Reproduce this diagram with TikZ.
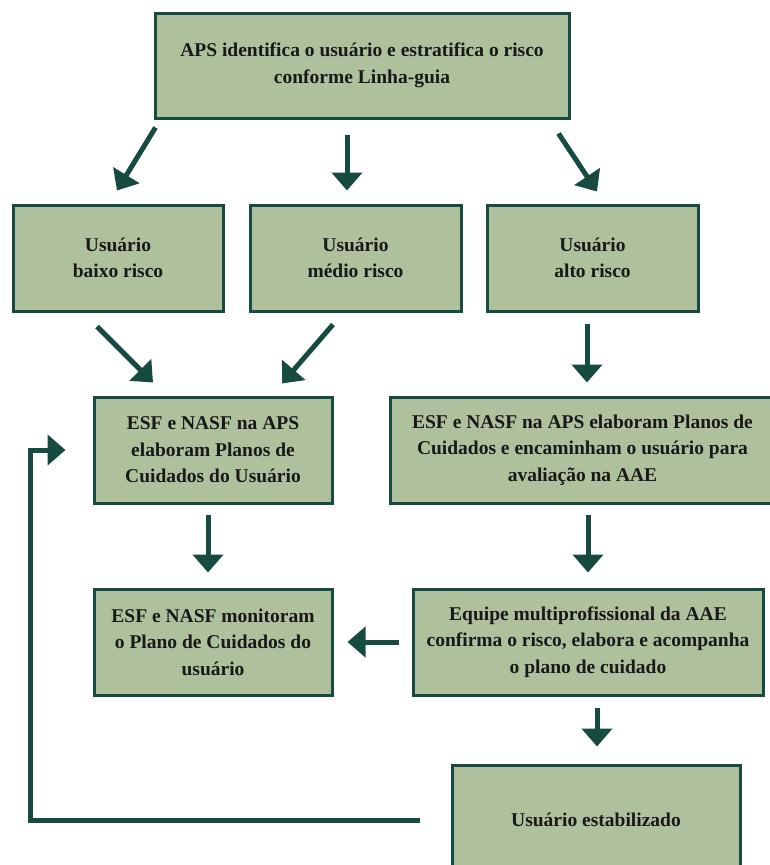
\documentclass[tikz,border=0pt]{standalone}
\usepackage{fontspec}
\setmainfont{Liberation Serif}
\usetikzlibrary{arrows.meta}
\definecolor{sage}{RGB}{175,192,156}
\definecolor{pine}{RGB}{23,74,64}
\definecolor{ink}{RGB}{25,25,25}
\begin{document}
\begin{tikzpicture}[x=1pt,y=-1pt]
\tikzstyle{every node}=[font=\fontsize{19.5}{26.5}\selectfont\bfseries, text=ink]
\tikzstyle{etapa}=[draw=pine, line width=3pt, fill=sage, align=center, inner sep=0pt]
\tikzstyle{seta}=[pine, line width=5pt, -{Triangle[width=30pt,length=18pt]}]
	\useasboundingbox (0,0) rectangle (770,865);
	\clip (0,0) rectangle (770,865);

	\node[etapa, minimum width=414pt, minimum height=105pt] (aps) at (362,65.5) {APS identifica o usuário e estratifica o risco\\conforme Linha-guia};

	\node[etapa, minimum width=210pt, minimum height=106pt] (baixo) at (118,258) {Usuário\\baixo risco};
	\node[etapa, minimum width=211pt, minimum height=106pt] (medio) at (355.5,258) {Usuário\\médio risco};
	\node[etapa, minimum width=211pt, minimum height=106pt] (alto) at (592.5,258) {Usuário\\alto risco};

	\node[etapa, minimum width=238pt, minimum height=106pt] (esfbaixo) at (213,450) {ESF e NASF na APS\\elaboram Planos de\\Cuidados do Usuário};
	\node[etapa, minimum width=385pt, minimum height=106pt] (esfalto) at (582.5,450) {ESF e NASF na APS elaboram Planos de\\Cuidados e encaminham o usuário para\\avaliação na AAE};

	\node[etapa, minimum width=238pt, minimum height=106pt] (monitora) at (213,642) {ESF e NASF monitoram\\o Plano de Cuidados do\\usuário};
	\node[etapa, minimum width=350pt, minimum height=106pt] (equipe) at (588,642) {Equipe multiprofissional da AAE\\confirma o risco, elabora e acompanha\\o plano de cuidado};

	\node[etapa, minimum width=288pt, minimum height=110pt] (estavel) at (596,820) {Usuário estabilizado};

	\draw[seta] ([xshift=2pt,yshift=-8pt]aps.south west) -- ([xshift=-1pt,yshift=13pt]baixo.north);
	\draw[seta] ([xshift=-15pt,yshift=-15pt]aps.south) -- ([xshift=-8.5pt,yshift=13pt]medio.north);
	\draw[seta] ([xshift=-12pt,yshift=-14pt]aps.south east) -- ([xshift=4.5pt,yshift=12pt]alto.north);
	\draw[seta] ([xshift=-21pt,yshift=-14pt]baixo.south) -- ([xshift=-60pt,yshift=13pt]esfbaixo.north);
	\draw[seta] ([xshift=-22.5pt,yshift=-12pt]medio.south) -- ([xshift=69pt,yshift=12pt]esfbaixo.north);
	\draw[seta] ([xshift=-5.5pt,yshift=-11pt]alto.south) -- ([xshift=4.5pt,yshift=13pt]esfalto.north);
	\draw[seta] ([xshift=-5pt,yshift=-10pt]esfbaixo.south) -- ([xshift=-5pt,yshift=15pt]monitora.north);
	\draw[seta] ([xshift=5.5pt,yshift=-10pt]esfalto.south) -- ([yshift=15pt]equipe.north);
	\draw[seta] ([xshift=-13pt]equipe.west) -- ([xshift=14pt]monitora.east);
	\draw[seta] ([xshift=9pt,yshift=-11pt]equipe.south) -- ([xshift=1pt,yshift=17pt]estavel.north);
	\draw[seta] ([xshift=-31pt]estavel.west) -- ++(-389,0) |- ([xshift=-27pt]esfbaixo.west);
\end{tikzpicture}
\end{document}
